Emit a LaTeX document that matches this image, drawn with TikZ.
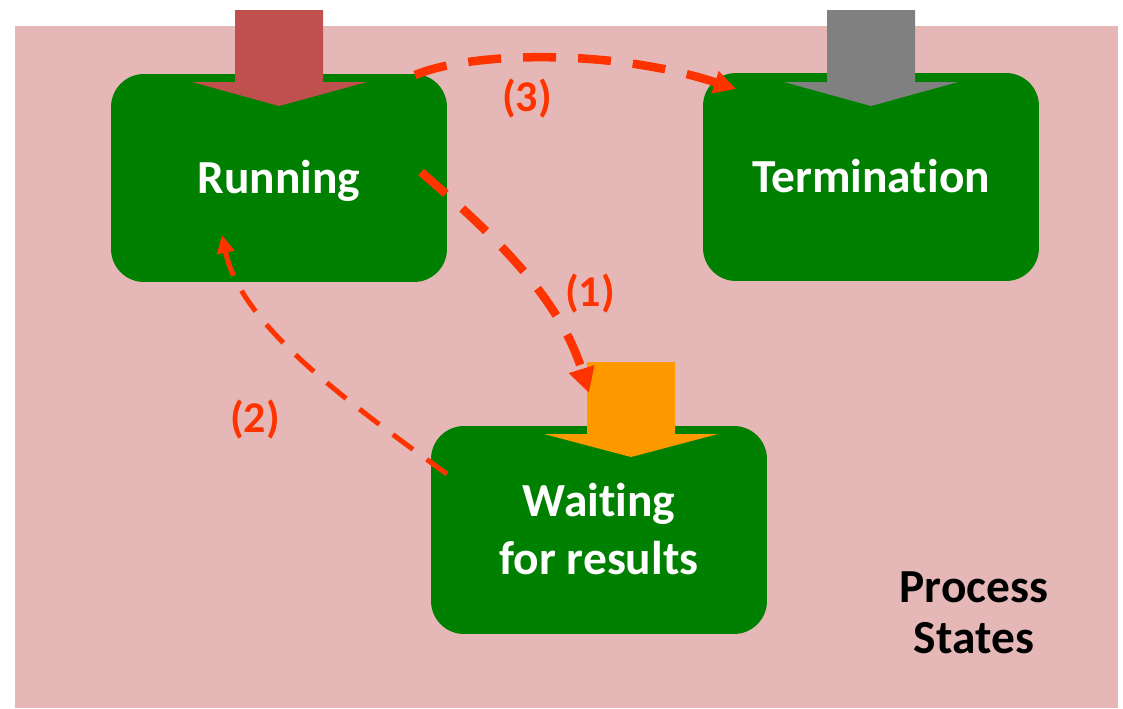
\documentclass[tikz,border=0pt]{standalone}
\usepackage{fontspec}
\setmainfont[RawFeature={-liga;-clig;-dlig;-rlig}]{Carlito}
\usetikzlibrary{arrows.meta}
\definecolor{ps_pink}{RGB}{229, 184, 183}
\definecolor{ps_green}{RGB}{0, 128, 0}
\definecolor{ps_red}{RGB}{192, 80, 77}
\definecolor{ps_grey}{RGB}{128, 128, 128}
\definecolor{ps_orange}{RGB}{255, 153, 0}
\definecolor{ps_flow}{RGB}{255, 51, 0}
\tikzstyle{state}=[rectangle,rounded corners=0.66cm,fill=ps_green,text=white,
  minimum width=6.72cm,minimum height=4.16cm,inner sep=0pt,align=center,
  font=\fontsize{27}{33}\selectfont\bfseries,text height=0.6cm,text depth=0pt]
\tikzstyle{lbl}=[text=ps_flow,inner sep=0pt,
  font=\fontsize{25}{30}\selectfont\bfseries]
\tikzstyle{note}=[text=black,inner sep=0pt,align=center,
  font=\fontsize{27}{29}\selectfont\bfseries,text height=1.62cm,text depth=0pt]
\tikzstyle{flow}=[draw=ps_flow,line width=0.17cm,dash pattern=on 0.66cm off 0.44cm]
\tikzstyle{thinflow}=[draw=ps_flow,line width=0.1cm,dash pattern=on 0.5cm off 0.34cm]

\begin{document}
\begin{tikzpicture}[x=0.02cm, y=-0.02cm]
    \useasboundingbox (0, 0) rectangle (1123, 708);
    \fill [ps_pink] (15, 26) rectangle (1118, 708);
    % states
    \node [style=state] (run) at (279, 178) {Running};
    \node [style=state] (term) at (871, 177) {Terminat\kern0pt ion};
    \node [style=state, text height=1.76cm] (wait) at (599, 530) {Wait\kern0pt ing\\for results};
    \node [style=note] (title) at (974, 612.5) {Process\\States};
    % entry arrows
    \fill [ps_red] (235, 10) -- (323, 10) -- (323, 82) -- (367, 82) -- (279, 106)
        -- (192, 82) -- (235, 82) -- cycle;
    \fill [ps_grey] (827, 10) -- (915, 10) -- (915, 82) -- (958, 82) -- (871, 106)
        -- (784, 82) -- (827, 82) -- cycle;
    \fill [ps_orange] (587, 362) -- (675, 362) -- (675, 434) -- (718, 434) -- (631, 457)
        -- (544, 434) -- (587, 434) -- cycle;
    % transitions
    \coordinate (r1) at (421, 172);
    \coordinate (w1) at (589, 393);
    \coordinate (w2) at (447, 474);
    \coordinate (r2) at (222, 235);
    \coordinate (r3) at (415, 75);
    \coordinate (t3) at (736, 89);
    \draw [style=flow, -{Triangle[length=0.5cm, width=0.5cm]}]
        (r1) .. controls (500, 240) and (560, 300) .. (w1);
    \draw [style=thinflow, -{Triangle[length=0.36cm, width=0.34cm]}]
        (w2) .. controls (330, 390) and (240, 320) .. (r2);
    \draw [style=flow, -{Triangle[length=0.44cm, width=0.44cm]}]
        (r3) .. controls (470, 52) and (610, 48) .. (t3);
    \node [style=lbl] (l1) at (590, 294) {(1)};
    \node [style=lbl] (l2) at (255, 420) {(2)};
    \node [style=lbl] (l3) at (527, 99) {(3)};
\end{tikzpicture}
\end{document}
